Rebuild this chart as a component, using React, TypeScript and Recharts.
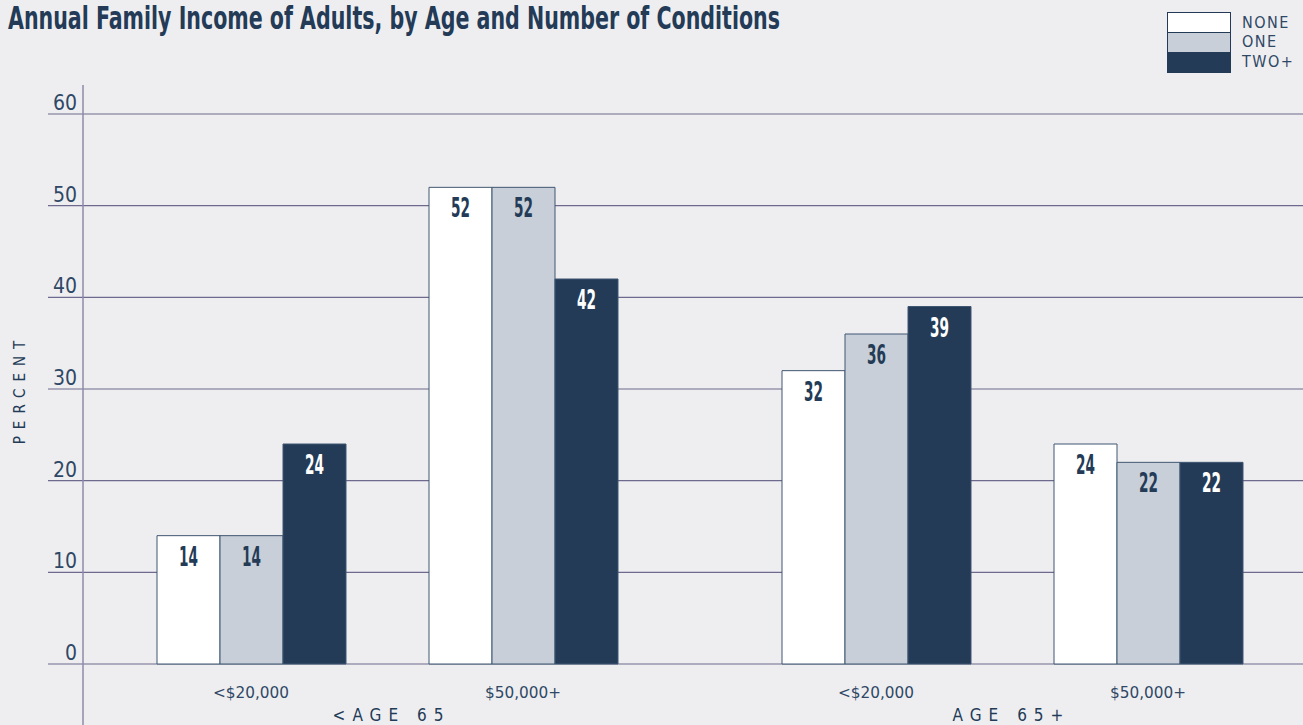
import React from 'react';
import { BarChart, Bar, XAxis, YAxis, CartesianGrid, LabelList, Label, Legend } from 'recharts';

// income brackets and age groups
const incomeLevels = ['<$20,000', '$50,000+'];
const ageGroups = ['<AGE 65', 'AGE 65+'];
const conditionNames = ['NONE', 'ONE', 'TWO+'];

// percent of adults in each bracket, by number of chronic conditions
const under65None = [14, 52];
const under65One = [14, 52];
const under65TwoPlus = [24, 42];
const over65None = [32, 24];
const over65One = [36, 22];
const over65TwoPlus = [39, 22];

const percentTicks = [0, 10, 20, 30, 40, 50, 60];

const BG = '#eeeef1';
const NAVY = '#233b56';
const GREY = '#c8cfd8';
const GRID = '#6d6a8e';
const AXIS = '#8e8aa8';
const TEXT = '#2e4865';
const FONT = "'DejaVu Sans Condensed', 'Liberation Sans Narrow', 'DejaVu Sans', sans-serif";

const seriesKeys = ['none', 'one', 'twoPlus'];
const seriesFills = ['#ffffff', GREY, NAVY];
const labelFills = [NAVY, NAVY, '#ffffff'];

const buildRows = (none: number[], one: number[], twoPlus: number[]) =>
  incomeLevels.map((income, i) => ({ income, none: none[i], one: one[i], twoPlus: twoPlus[i] }));

const under65Rows = buildRows(under65None, under65One, under65TwoPlus);
const over65Rows = buildRows(over65None, over65One, over65TwoPlus);

const ValueLabel = (fill: string) => (props: any) => {
  const { x, y, width, value } = props;
  const s = String(value);
  return (
    <text
      x={x + width / 2}
      y={y + 21}
      fill={fill}
      fontFamily={FONT}
      fontWeight="bold"
      fontSize={26}
      textAnchor="middle"
      dominantBaseline="central"
      textLength={s.length * 9.5}
      lengthAdjust="spacingAndGlyphs"
    >
      {s}
    </text>
  );
};

const IncomeTick = (props: any) => {
  const { x, y, payload } = props;
  return (
    <text x={x} y={y + 29} fill={TEXT} fontFamily={FONT} fontSize={15} textAnchor="middle" dominantBaseline="central"
      textLength={76} lengthAdjust="spacingAndGlyphs">
      {payload.value}
    </text>
  );
};

const PercentTick = (props: any) => {
  const { x, y, payload } = props;
  return (
    <g>
      <line x1={x - 29} x2={x + 6} y1={y} y2={y} stroke={GRID} strokeWidth={1.2} />
      <text x={x} y={y - 11} fill={TEXT} fontFamily={FONT} fontSize={21} textAnchor="end" dominantBaseline="central">
        {payload.value}
      </text>
    </g>
  );
};

const groupLabel = (text: string, dx: number) => (props: any) => {
  const { viewBox } = props;
  return (
    <text
      x={viewBox.x + viewBox.width / 2 + dx}
      y={viewBox.y + 51}
      fill={NAVY}
      fontFamily={FONT}
      fontSize={17}
      letterSpacing={7}
      textAnchor="middle"
      dominantBaseline="central"
    >
      {text}
    </text>
  );
};

const percentTitle = (props: any) => {
  const { viewBox } = props;
  const cx = 20;
  const cy = viewBox.y + viewBox.height / 2;
  return (
    <text x={cx} y={cy} transform={`rotate(-90, ${cx}, ${cy})`} fill={NAVY} fontFamily={FONT} fontSize={15}
      letterSpacing={7} textAnchor="middle" dominantBaseline="central">
      PERCENT
    </text>
  );
};

const ConditionLegend = (props: any) => {
  const { payload = [] } = props;
  return (
    <svg width={140} height={64}>
      {payload.map((entry: any, i: number) => (
        <g key={entry.value}>
          <rect x={0.5} y={0.5 + i * 20} width={63} height={20} fill={entry.color} stroke={NAVY} strokeWidth={1} />
          <text x={75} y={10 + i * 19.5} fill={TEXT} fontFamily={FONT} fontSize={16} letterSpacing={1.5}
            dominantBaseline="central">
            {entry.value}
          </text>
        </g>
      ))}
    </svg>
  );
};

const renderBars = () =>
  seriesKeys.map((key, i) => (
    <Bar
      key={key}
      dataKey={key}
      name={conditionNames[i]}
      fill={seriesFills[i]}
      stroke="#3f5670"
      strokeWidth={1}
      isAnimationActive={false}
    >
      <LabelList dataKey={key} content={ValueLabel(labelFills[i])} />
    </Bar>
  ));

export default function App() {
  return (
    <div style={{ position: 'fixed', top: 0, left: 0, width: 1303, height: 725, background: BG, overflow: 'hidden' }}>
      <div style={{ position: 'absolute', left: 0, top: 0 }}>
        <BarChart width={700} height={725} data={under65Rows} margin={{ top: 114, right: 0, bottom: 0, left: 0 }}
          barGap={0} barCategoryGap={42}>
          <CartesianGrid vertical={false} stroke={GRID} strokeWidth={1.2} horizontalValues={percentTicks} />
          <XAxis dataKey="income" height={61} axisLine={false} tickLine={false} tickSize={0} tickMargin={0}
            interval={0} padding={{ left: 32, right: 41 }} tick={IncomeTick}>
            <Label content={groupLabel(ageGroups[0], 0)} />
          </XAxis>
          <YAxis width={83} domain={[0, 60]} ticks={percentTicks} axisLine={false} tickLine={false} tickSize={0}
            tickMargin={6} tick={PercentTick} label={{ content: percentTitle }} />
          {renderBars()}
        </BarChart>
      </div>
      <div style={{ position: 'absolute', left: 700, top: 0 }}>
        <BarChart width={603} height={725} data={over65Rows} margin={{ top: 114, right: 0, bottom: 0, left: 0 }}
          barGap={0} barCategoryGap={42}>
          <CartesianGrid vertical={false} stroke={GRID} strokeWidth={1.2} horizontalValues={percentTicks} />
          <XAxis dataKey="income" height={61} axisLine={false} tickLine={false} tickSize={0} tickMargin={0}
            interval={0} padding={{ left: 40, right: 19 }} tick={IncomeTick}>
            <Label content={groupLabel(ageGroups[1], 10)} />
          </XAxis>
          <YAxis hide domain={[0, 60]} ticks={percentTicks} />
          <Legend layout="horizontal" verticalAlign="middle" align="center" content={ConditionLegend}
            wrapperStyle={{ left: 467, top: 12, width: 140 }} />
          {renderBars()}
        </BarChart>
      </div>
      <svg width={1303} height={725} style={{ position: 'absolute', left: 0, top: 0, pointerEvents: 'none' }}>
        <text x={8} y={29} fill={NAVY} fontFamily={FONT} fontWeight="bold" fontSize={32} textLength={772}
          lengthAdjust="spacingAndGlyphs">
          Annual Family Income of Adults, by Age and Number of Conditions
        </text>
        <line x1={83} x2={83} y1={85} y2={725} stroke={AXIS} strokeWidth={1.5} />
      </svg>
    </div>
  );
}
